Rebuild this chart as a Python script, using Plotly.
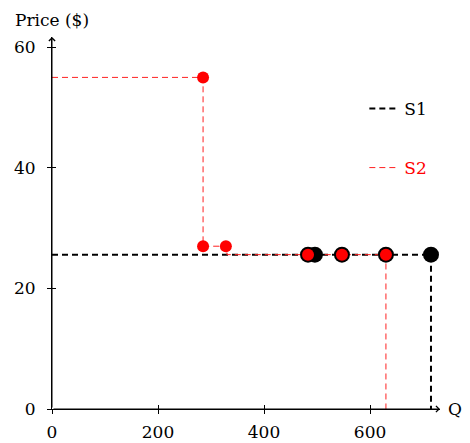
import plotly.graph_objects as go

# Supply curve S1 (black)
s1_line_q = [0, 715, 715]
s1_line_p = [25.6, 25.6, 0]
s1_pts_q = [483, 496, 547, 630, 715]
s1_pts_p = [25.6, 25.6, 25.6, 25.6, 25.6]

# Supply curve S2 (red)
s2_line_q = [0, 285, 285, 330, 330, 630, 630]
s2_line_p = [55, 55, 27, 27, 25.6, 25.6, 0]
s2_pts_q = [285, 285, 328, 483, 547, 630]
s2_pts_p = [55, 27, 27, 25.6, 25.6, 25.6]

x_ticks = [0, 200, 400, 600]
y_ticks = [0, 20, 40, 60]
x_max = 732
y_max = 61.7

FONT = "DejaVu Serif"
FS = 17

fig = go.Figure()
fig.add_trace(go.Scatter(x=s1_line_q, y=s1_line_p, mode="lines", name="S1",
                         line=dict(color="black", width=2, dash="6px,4px"),
                         legendgroup="a"))
fig.add_trace(go.Scatter(x=s2_line_q, y=s2_line_p, mode="lines",
                         name="<span style='color:#ff0000'>S2</span>",
                         line=dict(color="#ff2020", width=1, dash="6px,4px"),
                         legendgroup="b"))
fig.add_trace(go.Scatter(x=s1_pts_q, y=s1_pts_p, mode="markers", showlegend=False,
                         marker=dict(color="black", size=16)))
fig.add_trace(go.Scatter(x=s2_pts_q, y=s2_pts_p, mode="markers", showlegend=False,
                         marker=dict(color="#ff0000", size=12)))

axis_common = dict(showgrid=False, zeroline=False, showline=True, linecolor="black",
                   linewidth=1, automargin=False,
                   ticks="outside", ticklen=4, tickcolor="black",
                   tickfont=dict(family=FONT, size=FS, color="black"))
fig.update_xaxes(range=[0, x_max], tickvals=x_ticks, ticklabelstandoff=4, **axis_common)
fig.update_yaxes(range=[0, y_max], tickvals=y_ticks, ticklabelstandoff=8, **axis_common)

# inner half of the crossing tick marks
fig.update_layout(
    xaxis2=dict(overlaying="x", anchor="y", range=[0, x_max], tickvals=x_ticks,
                showticklabels=False, ticks="inside", ticklen=4, tickcolor="black",
                showgrid=False, zeroline=False, showline=False, automargin=False, side="bottom"),
    yaxis2=dict(overlaying="y", anchor="x", range=[0, y_max], tickvals=y_ticks,
                showticklabels=False, ticks="inside", ticklen=4, tickcolor="black",
                showgrid=False, zeroline=False, showline=False, automargin=False, side="left"),
)
fig.add_trace(go.Scatter(x=[None], y=[None], xaxis="x2", yaxis="y2", showlegend=False,
                         hoverinfo="skip"))

# arrowheads at axis ends
fig.add_annotation(x=x_max, y=0, ax=0, ay=0, xref="x", yref="y", axref="x", ayref="y",
                   showarrow=True, arrowhead=4, arrowsize=1.2, arrowwidth=1, arrowcolor="black", text="")
fig.add_annotation(x=0, y=y_max, ax=0, ay=0, xref="x", yref="y", axref="x", ayref="y",
                   showarrow=True, arrowhead=4, arrowsize=1.2, arrowwidth=1, arrowcolor="black", text="")
fig.add_annotation(x=x_max, y=0, xref="x", yref="y", text="Q", showarrow=False,
                   xanchor="left", xshift=6, font=dict(family=FONT, size=FS, color="black"))
fig.add_annotation(x=0, y=1, xref="paper", yref="paper", text="Price ($)", showarrow=False,
                   xanchor="center", yanchor="bottom", yshift=5,
                   font=dict(family=FONT, size=FS, color="black"))

fig.update_layout(
    width=470, height=443,
    margin=dict(l=52, r=30, t=37, b=34, autoexpand=False),
    plot_bgcolor="white", paper_bgcolor="white",
    font=dict(family=FONT, color="black"),
    hovermode=False,
    legend=dict(x=0.805, y=0.855, xanchor="left", yanchor="top",
                font=dict(family=FONT, size=FS, color="black"),
                tracegroupgap=34, itemwidth=30, bgcolor="rgba(0,0,0,0)"),
)

fig.write_html("out.html", config={"displayModeBar": False},
               post_script="document.body.style.margin='0';")
